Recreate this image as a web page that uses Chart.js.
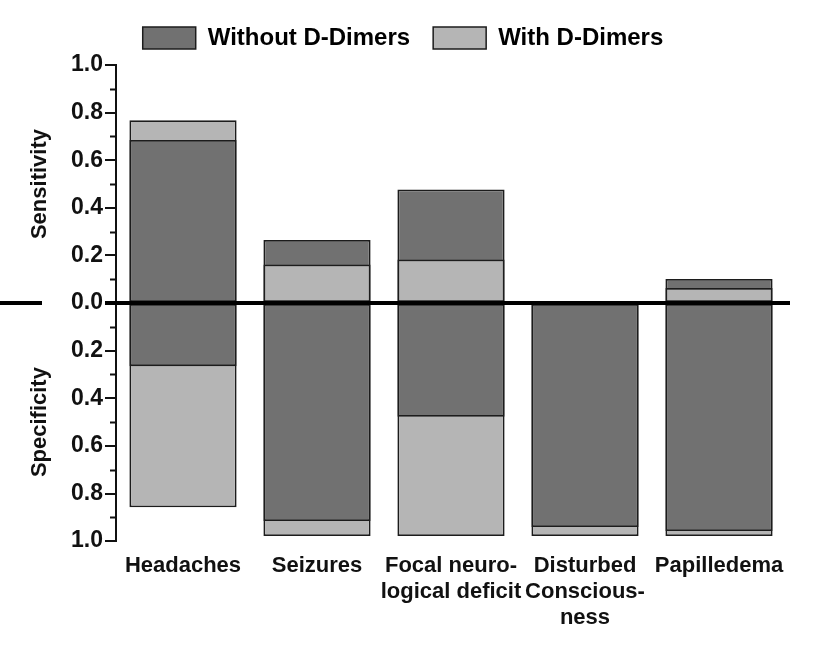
<!DOCTYPE html>
<html>
<head>
<meta charset="utf-8">
<script src="https://cdn.jsdelivr.net/npm/chart.js@4/dist/chart.umd.min.js"></script>
<style>
  html, body { margin: 0; padding: 0; background: #fff; }
  #wrap { width: 827px; height: 650px; position: relative; }
</style>
</head>
<body>
<div id="wrap"><canvas id="chart"></canvas></div>
<script>
// categories + values
const categories = [['Headaches'], ['Seizures'], ['Focal neuro-', 'logical deficit'], ['Disturbed', 'Conscious-', 'ness'], ['Papilledema']];
const seriesNames = ['Without D-Dimers', 'With D-Dimers'];
const sensWithout = [0.685, 0.265, 0.477, 0, 0.101];
const sensWith    = [0.768, 0.162, 0.183, 0, 0.063];
const specWithout = [0.265, 0.916, 0.478, 0.941, 0.958];
const specWith    = [0.858, 0.979, 0.979, 0.979, 0.979];
const yTickValues = [1.0, 0.8, 0.6, 0.4, 0.2, 0.0, 0.2, 0.4, 0.6, 0.8, 1.0];

const DARK = '#717171', LIGHT = '#b5b5b5', EDGE = '#1c1c1c';
const FONT = '"Liberation Sans", Arial, sans-serif';

// smaller bar is drawn in front, larger one behind
function layer(a, b, front, sign){
  const vals = [], cols = [];
  for(let i=0;i<a.length;i++){
    const aFront = a[i] <= b[i];
    const useA = front ? aFront : !aFront;
    const v = useA ? a[i] : b[i];
    vals.push(v === 0 ? null : sign * v);
    cols.push(useA ? DARK : LIGHT);
  }
  return {vals, cols};
}
const sFront = layer(sensWithout, sensWith, true, 1);
const sBack  = layer(sensWithout, sensWith, false, 1);
const pFront = layer(specWithout, specWith, true, -1);
const pBack  = layer(specWithout, specWith, false, -1);

function ds(l){
  return { data: l.vals, backgroundColor: l.cols, borderColor: EDGE, borderWidth: 1.8,
           borderSkipped: false, grouped: false, categoryPercentage: 0.8, barPercentage: 1.0 };
}

const isMajor = v => Math.round(Math.abs(v) * 10) % 2 === 0;

// zero line, minor ticks, side titles
const extras = {
  id: 'extras',
  beforeLayout(chart){
    // a bit more room under the legend
    const lg = chart.legend;
    if(lg && !lg._padded){
      const fit = lg.fit;
      lg.fit = function(){ fit.call(this); this.height += 5; };
      lg._padded = true;
    }
  },
  afterDatasetsDraw(chart){
    const {ctx, chartArea, scales:{y}} = chart;
    const y0 = y.getPixelForValue(0);
    ctx.save();
    ctx.strokeStyle = '#000';
    ctx.lineWidth = 4;
    ctx.beginPath();
    ctx.moveTo(0, y0); ctx.lineTo(42, y0);
    ctx.moveTo(chartArea.left - 11, y0); ctx.lineTo(chartArea.right + 4, y0);
    ctx.stroke();
    // minor ticks
    ctx.lineWidth = 2;
    ctx.strokeStyle = '#111';
    ctx.beginPath();
    for(let k=-9;k<=9;k+=2){
      const py = Math.round(y.getPixelForValue(k/10)) + 0.5;
      ctx.moveTo(chartArea.left - 6, py); ctx.lineTo(chartArea.left, py);
    }
    ctx.stroke();
    ctx.fillStyle = '#111';
    ctx.font = 'bold 22px ' + FONT;
    ctx.textAlign = 'center';
    ctx.textBaseline = 'middle';
    [['Sensitivity', 0.5], ['Specificity', -0.5]].forEach(([t, v])=>{
      ctx.save();
      ctx.translate(40, y.getPixelForValue(v));
      ctx.rotate(-Math.PI/2);
      ctx.fillText(t, 0, 0);
      ctx.restore();
    });
    ctx.restore();
  }
};

new Chart(document.getElementById('chart'), {
  type: 'bar',
  data: { labels: categories, datasets: [ds(sFront), ds(pFront), ds(sBack), ds(pBack)] },
  options: {
    responsive: true, maintainAspectRatio: false, animation: false,
    layout: { padding: { left: 20, right: 41, top: 3, bottom: 15 } },
    plugins: {
      tooltip: { enabled: false },
      legend: {
        position: 'top',
        onClick: null,
        labels: {
          color: '#111', font: { family: FONT, size: 24, weight: 'bold' },
          boxWidth: 53, boxHeight: 22, padding: 23,
          generateLabels: () => seriesNames.map((n, i) => ({
            text: n, fillStyle: i === 0 ? DARK : LIGHT, strokeStyle: EDGE, lineWidth: 1.5,
            hidden: false, datasetIndex: i
          }))
        }
      }
    },
    scales: {
      x: {
        grid: { display: false }, border: { display: false },
        ticks: { color: '#111', font: { family: FONT, size: 22, weight: 'bold', lineHeight: 1.18 },
                 autoSkip: false, maxRotation: 0, padding: 4 }
      },
      y: {
        min: -1, max: 1,
        afterFit: s => { s.width = 96; },
        border: { display: true, color: '#111', width: 2 },
        grid: { drawOnChartArea: false, tickLength: 11, lineWidth: 2,
                tickColor: c => (c.tick && isMajor(c.tick.value)) ? '#111' : 'rgba(0,0,0,0)' },
        ticks: {
          stepSize: 0.2, padding: 2, color: '#111',
          font: { family: FONT, size: 23, weight: 'bold' },
          callback: v => isMajor(v) ? yTickValues[Math.round((1 - v) * 5)].toFixed(1) : ''
        }
      }
    }
  },
  plugins: [extras]
});
</script>
</body>
</html>
